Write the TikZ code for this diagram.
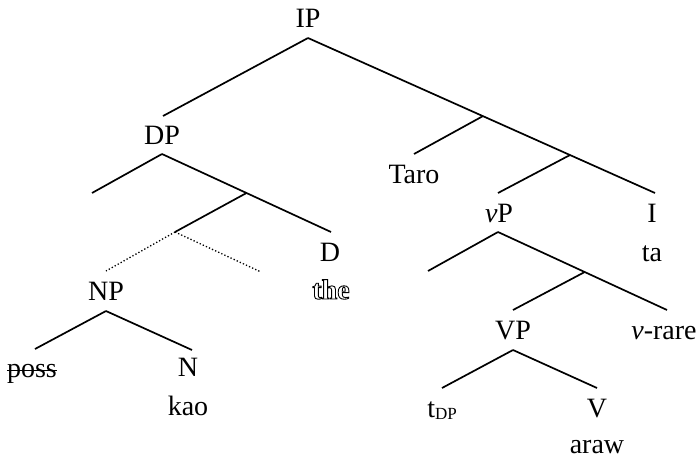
\documentclass[tikz,border=0pt]{standalone}
\usepackage{fontspec}
\setmainfont{Liberation Serif}
\usetikzlibrary{calc}
% hollow (outlined) lettering via the PDF text render mode
\newcommand{\hollow}[1]{%
  \special{pdf:literal direct 1 Tr 0.9 w}#1\special{pdf:literal direct 0 Tr 0.4 w}}
\begin{document}
\begin{tikzpicture}[x=1pt,y=1pt,
  lbl/.style={anchor=base, inner sep=0pt, font=\fontsize{28}{32}\selectfont},
  branch/.style={line width=1.7pt},
  ghost/.style={line width=1.3pt, dash pattern=on 1.3pt off 2.1pt},
  strike/.style={line width=1.3pt}]
\useasboundingbox (0,0) rectangle (700,459);

% labels
\node[lbl] (IP)   at (308,431) {IP};
\node[lbl] (DP)   at (162,315) {DP};
\node[lbl] (Taro) at (414,276) {Taro};
\node[lbl] (vP)   at (499,237) {\textit{v}P};
\node[lbl] (I)    at (652,237) {I};
\node[lbl] (ta)   at (652,198) {ta};
\node[lbl] (VP)   at (513,120) {VP};
\node[lbl] (vrare) at (664,120) {\textit{v}-rare};
\node[lbl] (tDP)  at (442,42) {t\raisebox{-2pt}{\fontsize{17}{17}\selectfont DP}};
\node[lbl] (V)    at (597,42) {V};
\node[lbl] (araw) at (597,6) {araw};
\node[lbl] (D)    at (330,198) {D};
\node[lbl] (the)  at (331,160) {\hollow{\bfseries the}};
\node[lbl] (NP)   at (106,159) {NP};
\node[lbl] (poss) at (32,82) {poss};
\node[lbl] (N)    at (188,83) {N};
\node[lbl] (kao)  at (188,44) {kao};

% line through the struck-out word
\draw[strike] ([yshift=6.5pt]poss.base west) -- ([yshift=6.5pt]poss.base east);

% branch points
\coordinate (ipB)  at (308,421);
\coordinate (dpT)  at (163,343);
\coordinate (iT)   at (655,266);
\coordinate (taroT) at (414,305);
\coordinate (vpT)  at (498,266);
\coordinate (vpB)  at (498,227);
\coordinate (vpL)  at (428,188);
\coordinate (vrT)  at (667,149);
\coordinate (VPT)  at (513,149);
\coordinate (VPB)  at (513,109);
\coordinate (tT)   at (442,71);
\coordinate (VT)   at (597,71);
\coordinate (dpB)  at (162,305);
\coordinate (dpL)  at (92,266);
\coordinate (dT)   at (331,227);
\coordinate (gB)   at (175,227);
\coordinate (gL)   at (106,188);
\coordinate (gR)   at (261,187);
\coordinate (npB)  at (106,148);
\coordinate (possT) at (35,110);
\coordinate (nT)   at (192,109);

\coordinate (b1) at ($(ipB)!0.504!(iT)$);
\coordinate (b2) at ($(ipB)!0.755!(iT)$);
\coordinate (b3) at ($(vpB)!0.513!(vrT)$);
\coordinate (b4) at ($(dpB)!0.5!(dT)$);

% IP
\draw[branch] (ipB) -- (dpT);
\draw[branch] (ipB) -- (iT);
\draw[branch] (b1) -- (taroT);
\draw[branch] (b2) -- (vpT);
% vP
\draw[branch] (vpB) -- (vpL);
\draw[branch] (vpB) -- (vrT);
\draw[branch] (b3) -- (VPT);
% VP
\draw[branch] (VPB) -- (tT);
\draw[branch] (VPB) -- (VT);
% DP
\draw[branch] (dpB) -- (dpL);
\draw[branch] (dpB) -- (dT);
\draw[branch] (b4) -- (gB);
\draw[ghost] (gB) -- (gL);
\draw[ghost] (gB) -- (gR);
% NP
\draw[branch] (npB) -- (possT);
\draw[branch] (npB) -- (nT);
\end{tikzpicture}
\end{document}
